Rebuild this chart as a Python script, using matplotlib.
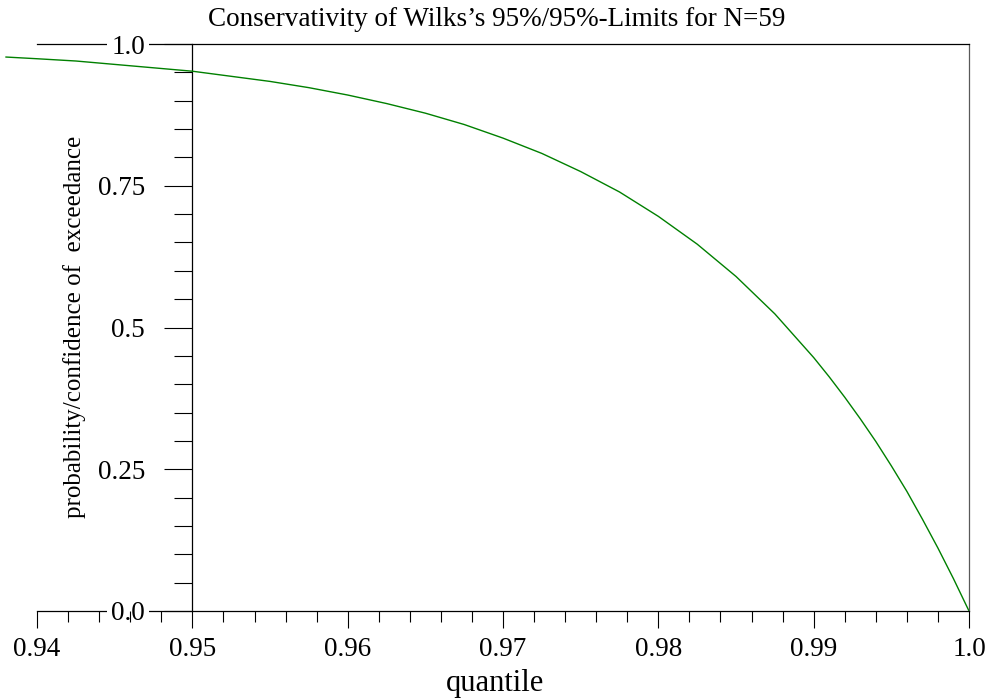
import numpy as np
import matplotlib.pyplot as plt

plt.rcParams['font.family'] = ['Liberation Serif', 'DejaVu Serif']

# values
quantile = [0.938, 0.940, 0.9425, 0.945, 0.9475, 0.950, 0.9525, 0.955,
            0.9575, 0.960, 0.9625, 0.965, 0.9675, 0.970, 0.9725, 0.975,
            0.9775, 0.980, 0.9825, 0.985, 0.9875, 0.990, 0.991, 0.992,
            0.993, 0.994, 0.995, 0.996, 0.997, 0.998, 0.999, 1.000]
exceed = [0.977, 0.974, 0.970, 0.964, 0.958, 0.952, 0.943, 0.934,
          0.923, 0.910, 0.895, 0.878, 0.858, 0.834, 0.807, 0.775,
          0.739, 0.696, 0.647, 0.590, 0.524, 0.447, 0.413, 0.377,
          0.339, 0.299, 0.256, 0.211, 0.162, 0.111, 0.057, 0.000]

xticks = [0.94, 0.95, 0.96, 0.97, 0.98, 0.99, 1.0]
xticklabels = ['0.94', '0.95', '0.96', '0.97', '0.98', '0.99', '1.0']
yticks = [0.0, 0.25, 0.5, 0.75, 1.0]
yticklabels = ['0.0', '0.25', '0.5', '0.75', '1.0']

W, H = 987, 698
fig = plt.figure(figsize=(W / 100, H / 100), dpi=100)
ax = fig.add_axes([0, 87 / H, 969 / W, 567 / H])

ax.plot(quantile, exceed, color='#008000', lw=1.0, zorder=4)

ax.set_xlim(0.94 - 37 / 155 * 0.01, 1.0)
ax.set_ylim(0, 1)

ax.spines['left'].set_position(('data', 0.95))
ax.spines['bottom'].set_bounds(0.94, 1.0)
ax.spines['top'].set_bounds(0.94, 1.0)
ax.spines['right'].set_color('0.35')
for s in ax.spines.values():
    s.set_linewidth(0.9)

ax.set_xticks(xticks)
ax.set_xticklabels(xticklabels)
ax.set_xticks(np.arange(0.94, 1.0005, 0.002), minor=True)
ax.set_yticks(yticks)
ax.set_yticklabels(yticklabels)
ax.set_yticks(np.arange(0, 1.0001, 0.05), minor=True)

ax.tick_params(axis='x', which='major', direction='out', length=12, width=0.8,
               labelsize=19.5, pad=7)
ax.tick_params(axis='x', which='minor', direction='out', length=8, width=0.8)
ax.tick_params(axis='y', which='major', direction='out', length=20, width=0.8,
               labelsize=19.5, pad=14)
ax.tick_params(axis='y', which='minor', direction='out', length=13, width=0.8)

for t in ax.get_yticklabels():
    t.set_bbox(dict(facecolor='white', edgecolor='none', boxstyle='square,pad=0.15'))
ax.yaxis.set_zorder(3)
ax.xaxis.set_zorder(3.5)

fig.text(497 / W, 1 - 19 / H, "Conservativity of Wilks\u2019s 95%/95%-Limits for N=59",
         ha='center', va='center', fontsize=19.5)
fig.text(495 / W, 1 - 683 / H, 'quantile', ha='center', va='center', fontsize=22)
fig.text(75 / W, 1 - 327 / H, 'probability/confidence of  exceedance',
         ha='center', va='center', rotation=90, fontsize=18)

fig.savefig('out.png', dpi=100)
